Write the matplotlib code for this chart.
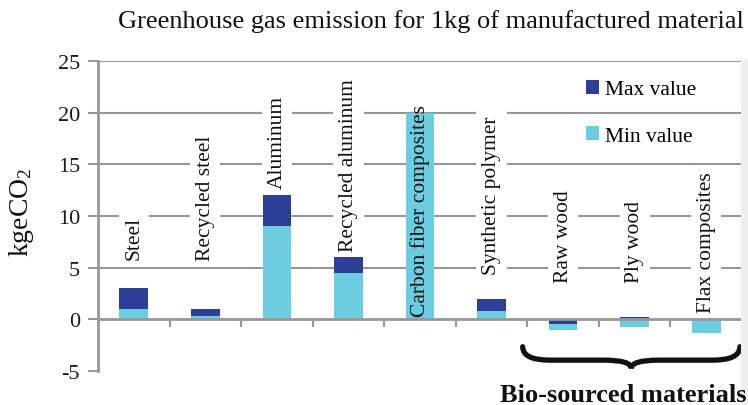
import matplotlib
matplotlib.use("Agg")
import matplotlib.pyplot as plt
from matplotlib.path import Path
from matplotlib.patches import PathPatch, Rectangle

# ---- data ----
categories = ["Steel", "Recycled steel", "Aluminum", "Recycled aluminum",
              "Carbon fiber composites", "Synthetic polymer", "Raw wood",
              "Ply wood", "Flax composites"]
# stacked segments: light ("Min value") and dark ("Max value") parts
min_segment = [1.0, 0.3, 9.0, 4.5, 20.0, 0.8, -0.55, -0.75, -1.3]
max_segment = [2.0, 0.7, 3.0, 1.5, 0.0, 1.2, -0.45, 0.2, 0.0]
y_ticks = [-5, 0, 5, 10, 15, 20, 25]
y_ticklabels = ["-5", "0", "5", "10", "15", "20", "25"]

# label anchor heights (layout)
label_bottom = [5.85, 5.7, 12.75, 6.65, 0.3, 4.4, 3.65, 3.65, 0.75]

DARK = "#2C3E98"
LIGHT = "#6CCDE0"
GREY = "#979797"
FONT = "Liberation Serif"

plt.rcParams["font.family"] = [FONT, "DejaVu Serif"]
plt.rcParams["mathtext.fontset"] = "custom"
plt.rcParams["mathtext.rm"] = FONT
plt.rcParams["mathtext.it"] = FONT + ":italic"
plt.rcParams["mathtext.default"] = "rm"

W, H = 748, 406
fig = plt.figure(figsize=(W / 100, H / 100), dpi=100)

# faint background band on the right edge
fig.patches.append(Rectangle((741 / W, 0), 7 / W, 1 - 60 / H, transform=fig.transFigure,
                             facecolor="#efefef", edgecolor="none", zorder=0))

ax = fig.add_axes([98 / W, 1 - 372 / H, (742 - 98) / W, (372 - 62) / H])
ax.patch.set_alpha(0)

x = list(range(len(categories)))
light_bottom = []
dark_bottom = []
for lo, hi in zip(min_segment, max_segment):
    if lo >= 0:
        light_bottom.append(0)
    else:
        light_bottom.append(hi if hi < 0 else 0)
    if hi >= 0:
        dark_bottom.append(lo if lo > 0 else 0)
    else:
        dark_bottom.append(0)

bw = 0.4
light_bars = ax.bar(x, min_segment, bw, bottom=light_bottom, color=LIGHT, zorder=3, linewidth=0)
dark_bars = ax.bar(x, max_segment, bw, bottom=dark_bottom, color=DARK, zorder=3, linewidth=0)

ax.set_xlim(-0.5, len(categories) - 0.5)
ax.set_ylim(-5, 25)

# grid
for g in [5, 10, 15, 20, 25]:
    ax.axhline(g, color=GREY, lw=1.5, zorder=1)

for s in ["top", "right"]:
    ax.spines[s].set_visible(False)
ax.spines["bottom"].set_position(("data", 0))
ax.spines["bottom"].set_color(GREY)
ax.spines["left"].set_color(GREY)
ax.spines["bottom"].set_linewidth(2)
ax.spines["left"].set_linewidth(2)
ax.spines["bottom"].set_zorder(4)

ax.set_yticks(y_ticks)
ax.set_yticklabels(y_ticklabels, fontsize=16, color="#1a1a1a")
ax.tick_params(axis="y", direction="out", length=7.5, width=1.5, color=GREY, pad=5.5)
ax.set_xticks([i + 0.5 for i in range(len(categories))])
ax.set_xticklabels([])
ax.tick_params(axis="x", direction="out", length=6, width=1.5, color=GREY)

# category labels
for i, (name, yb) in enumerate(zip(categories, label_bottom)):
    kw = {}
    if name != "Carbon fiber composites":
        kw["bbox"] = dict(facecolor="white", edgecolor="none", pad=4)
    ax.text(i, yb, name, rotation=90, ha="center", va="bottom",
            fontsize=15.5, color="#111111", zorder=5, **kw)

# legend
ax.legend([dark_bars[0], light_bars[0]], ["Max value", "Min value"],
          loc="upper left", bbox_to_anchor=(586 / W, 1 - 81 / H),
          bbox_transform=fig.transFigure, frameon=False,
          handlelength=0.6, handleheight=0.6, handletextpad=0.3,
          labelspacing=1.25, fontsize=15.5, borderpad=0, borderaxespad=0)

# brace under bio-sourced materials
x0, x1 = 5.435, 8.47
xm = (x0 + x1) / 2
yt, yb_, ytip = -2.65, -3.95, -4.75
dx = 0.38
verts = [(x0, yt), (x0, yb_), (x0 + dx, yb_),
         (xm - dx, yb_),
         (xm, yb_), (xm, ytip),
         (xm, yb_), (xm + dx, yb_),
         (x1 - dx, yb_),
         (x1, yb_), (x1, yt)]
codes = [Path.MOVETO, Path.CURVE3, Path.CURVE3,
         Path.LINETO,
         Path.CURVE3, Path.CURVE3,
         Path.CURVE3, Path.CURVE3,
         Path.LINETO,
         Path.CURVE3, Path.CURVE3]
ax.add_patch(PathPatch(Path(verts, codes), facecolor="none", edgecolor="#111111",
                       lw=3.8, capstyle="round", clip_on=False, zorder=6))

fig.text(747 / W, 1 - 402 / H, "Bio-sourced materials", ha="right", va="baseline",
         fontsize=19, fontweight="bold", color="#111111")

fig.text(431 / W, 1 - 28 / H, "Greenhouse gas emission for 1kg of manufactured material",
         ha="center", va="baseline", fontsize=19, color="#111111")

fig.text(21 / W, 1 - 212 / H, "kgeCO$_2$", rotation=90, ha="center", va="center",
         fontsize=20, color="#111111")

fig.savefig("out.png", dpi=100)
